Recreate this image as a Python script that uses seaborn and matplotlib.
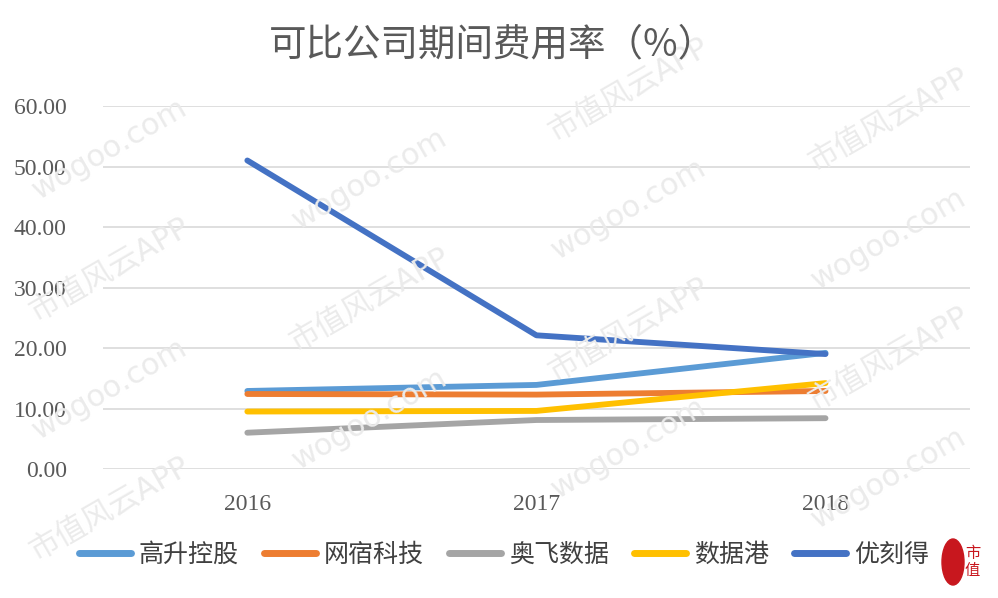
import pandas as pd
import matplotlib.pyplot as plt
from matplotlib.patches import Ellipse
import seaborn as sns

years = ["2016", "2017", "2018"]
gaosheng = [12.9, 13.9, 19.2]
wangsu = [12.4, 12.3, 12.9]
aofei = [6.0, 8.1, 8.4]
shujugang = [9.5, 9.6, 14.2]
ucloud = [51.0, 22.1, 19.0]

names = ["高升控股", "网宿科技", "奥飞数据", "数据港", "优刻得"]
colors = ["#5B9BD5", "#ED7D31", "#A5A5A5", "#FFC000", "#4472C4"]
yticks = [0, 10, 20, 30, 40, 50, 60]

df = pd.DataFrame({"年份": years, "高升控股": gaosheng, "网宿科技": wangsu,
                   "奥飞数据": aofei, "数据港": shujugang, "优刻得": ucloud})
df_long = df.melt(id_vars="年份", var_name="公司", value_name="费用率")

sns.set_theme(style="white")
plt.rcParams["font.family"] = ["Liberation Serif", "Noto Sans CJK SC", "DejaVu Sans"]

fig = plt.figure(figsize=(9.98, 5.98), dpi=100)
ax = fig.add_axes([0.103, 0.2157, 0.869, 0.607])

# faint watermark, kept inside the figure
for row in range(-4, 9):
    for col in range(0, 6):
        x = -0.15 + col * 0.26
        y = -0.2 + row * 0.2 + col * 0.15
        if not (0.1 < x < 0.9 and 0.12 < y < 0.88):
            continue
        txt = "市值风云APP" if (row + col) % 2 == 0 else "wogoo.com"
        fig.text(x, y, txt, rotation=30, fontsize=22, color="#ebebeb",
                 family=["DejaVu Sans", "Noto Sans CJK SC"], zorder=0,
                 ha="center", va="center")

sns.lineplot(data=df_long, x="年份", y="费用率", hue="公司", hue_order=names,
             palette=colors, linewidth=4.2, ax=ax, legend=False, sort=False,
             solid_capstyle="round")

ax.set_xlim(-0.5, 2.5)
ax.set_ylim(0, 60)
ax.set_yticks(yticks)
ax.set_yticklabels([f"{v:.2f}" for v in yticks])
ax.set_xlabel("")
ax.set_ylabel("")
ax.grid(axis="y", color="#d9d9d9", linewidth=1.2)
ax.set_axisbelow(True)
ax.patch.set_alpha(0)
for s in ax.spines.values():
    s.set_visible(False)
ax.tick_params(axis="y", labelsize=17, colors="#595959", length=0, pad=26)
ax.tick_params(axis="x", labelsize=17, colors="#595959", length=0, pad=18)

fig.text(0.493, 0.925, "可比公司期间费用率（%）", fontsize=27, color="#595959",
         ha="center", va="center", family=["Noto Sans CJK SC"])

handles = [plt.Line2D([], [], color=c, linewidth=5, solid_capstyle="round") for c in colors]
fig.legend(handles, names, loc="center", bbox_to_anchor=(0.505, 0.072), ncol=5,
           frameon=False, handlelength=2.1, columnspacing=1.0,
           handletextpad=0.3, labelcolor="#404040",
           prop={"family": ["Noto Sans CJK SC"], "size": 18})

# logo
fig.patches.append(Ellipse((953 / 998, 1 - 562 / 598), 22 / 998, 46 / 598,
                           transform=fig.transFigure, color="#c8171e", zorder=5))
fig.text(965 / 998, 1 - 562 / 598, "市\n值", fontsize=11, color="#c8171e", ha="left",
         va="center", family=["Noto Sans CJK SC"], linespacing=1.0)

fig.savefig("out.png", dpi=100)
